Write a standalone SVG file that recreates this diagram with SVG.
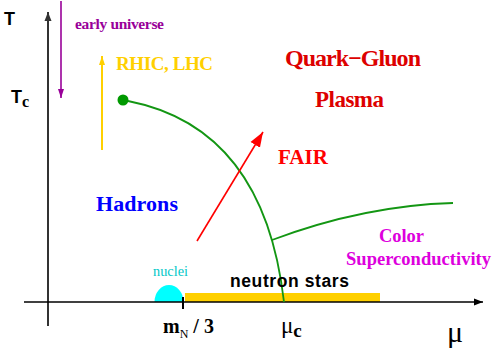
<svg xmlns="http://www.w3.org/2000/svg" width="498" height="350" viewBox="0 0 498 350">
<defs>
<style>
.serif{font-family:"Liberation Serif","Times New Roman",serif;font-weight:bold}
.sans{font-family:"Liberation Sans",Arial,sans-serif;font-weight:bold}
.curve{fill:none;stroke:#139613;stroke-width:1.8}
</style>
<marker id="ahBlack" markerUnits="userSpaceOnUse" markerWidth="10" markerHeight="8" refX="9" refY="4" orient="auto"><path d="M0,0.5 L9,4 L0,7.5 Z" fill="#000"/></marker>
<marker id="ahGray" markerUnits="userSpaceOnUse" markerWidth="10" markerHeight="8" refX="9" refY="4" orient="auto"><path d="M0,0.5 L9,4 L0,7.5 Z" fill="#333"/></marker>
<marker id="ahPurple" markerUnits="userSpaceOnUse" markerWidth="10" markerHeight="8" refX="9" refY="4" orient="auto"><path d="M0,1 L9,4 L0,7 Z" fill="#990099"/></marker>
<marker id="ahGold" markerUnits="userSpaceOnUse" markerWidth="10" markerHeight="8" refX="9" refY="4" orient="auto"><path d="M0,1 L9,4 L0,7 Z" fill="#ffd000"/></marker>
<marker id="ahRed" markerUnits="userSpaceOnUse" markerWidth="16" markerHeight="12" refX="15" refY="6" orient="auto"><path d="M0,0.5 L15,6 L0,11.5 Z" fill="#ff0000"/></marker>
</defs>
<rect width="498" height="350" fill="#fff"/>

<g id="shapes">
<rect id="neutron-bar" x="185" y="293" width="195" height="9" fill="#ffd000"/>
<path id="nuclei-dome" d="M154.5,302 A14.5,17 0 0 1 183.5,302 Z" fill="#00ffff"/>
</g>

<g id="connectors">
<line x1="48" y1="326" x2="48" y2="12" stroke="#333" stroke-width="2" marker-end="url(#ahGray)"/>
<line x1="24" y1="302" x2="483" y2="302" stroke="#000" stroke-width="1.6" marker-end="url(#ahBlack)"/>
<line x1="183" y1="297" x2="183" y2="309" stroke="#000" stroke-width="2"/>
<line x1="61" y1="1" x2="61" y2="98" stroke="#990099" stroke-width="1.6" marker-end="url(#ahPurple)"/>
<line x1="102" y1="150" x2="102" y2="56" stroke="#ffd000" stroke-width="2" marker-end="url(#ahGold)"/>
<path class="curve" d="M128,101 C215,118 270,180 284,302"/>
<path class="curve" d="M272,240 C320,222 380,205 453,203"/>
<line x1="197" y1="241" x2="263" y2="132" stroke="#ff0000" stroke-width="1.6" marker-end="url(#ahRed)"/>
<circle cx="123" cy="100" r="5.5" fill="#009900"/>
</g>

<g id="labels">
<text class="sans" x="4" y="25" font-size="18" fill="#000">T</text>
<text class="sans" x="11" y="103" font-size="18" fill="#000">T<tspan class="serif" font-size="16" dy="4">c</tspan></text>
<text class="serif" x="75" y="29" font-size="15.5" fill="#990099" textLength="89">early universe</text>
<text class="serif" x="116" y="70" font-size="19" fill="#ffd000" textLength="97">RHIC, LHC</text>
<text class="serif" x="285" y="66" font-size="24" fill="#dd0000" textLength="136">Quark−Gluon</text>
<text class="serif" x="315" y="107" font-size="23" fill="#dd0000" textLength="69">Plasma</text>
<text class="serif" x="278" y="164" font-size="21" fill="#ff0000" textLength="50">FAIR</text>
<text class="serif" x="96" y="211" font-size="22" fill="#0000ff" textLength="82">Hadrons</text>
<text class="serif" x="379" y="242" font-size="18.5" fill="#dd00dd" textLength="45">Color</text>
<text class="serif" x="346" y="265" font-size="18.5" fill="#dd00dd" textLength="145">Superconductivity</text>
<text x="153" y="276" font-family="Liberation Serif,Times New Roman,serif" font-size="14.3" fill="#00c8c8" textLength="35">nuclei</text>
<text class="sans" x="230" y="287" font-size="17.5" fill="#000" textLength="119">neutron stars</text>
<text class="serif" x="163" y="333" font-size="20" fill="#000">m<tspan font-weight="normal" font-size="12" dy="5">N</tspan><tspan dy="-5"> / 3</tspan></text>
<text x="281" y="333" font-family="Liberation Serif,Times New Roman,serif" font-size="23" fill="#000">μ<tspan font-weight="bold" font-size="19" dy="4">c</tspan></text>
<text x="447" y="342" font-family="Liberation Serif,Times New Roman,serif" font-size="30" fill="#000">μ</text>
</g>
</svg>
